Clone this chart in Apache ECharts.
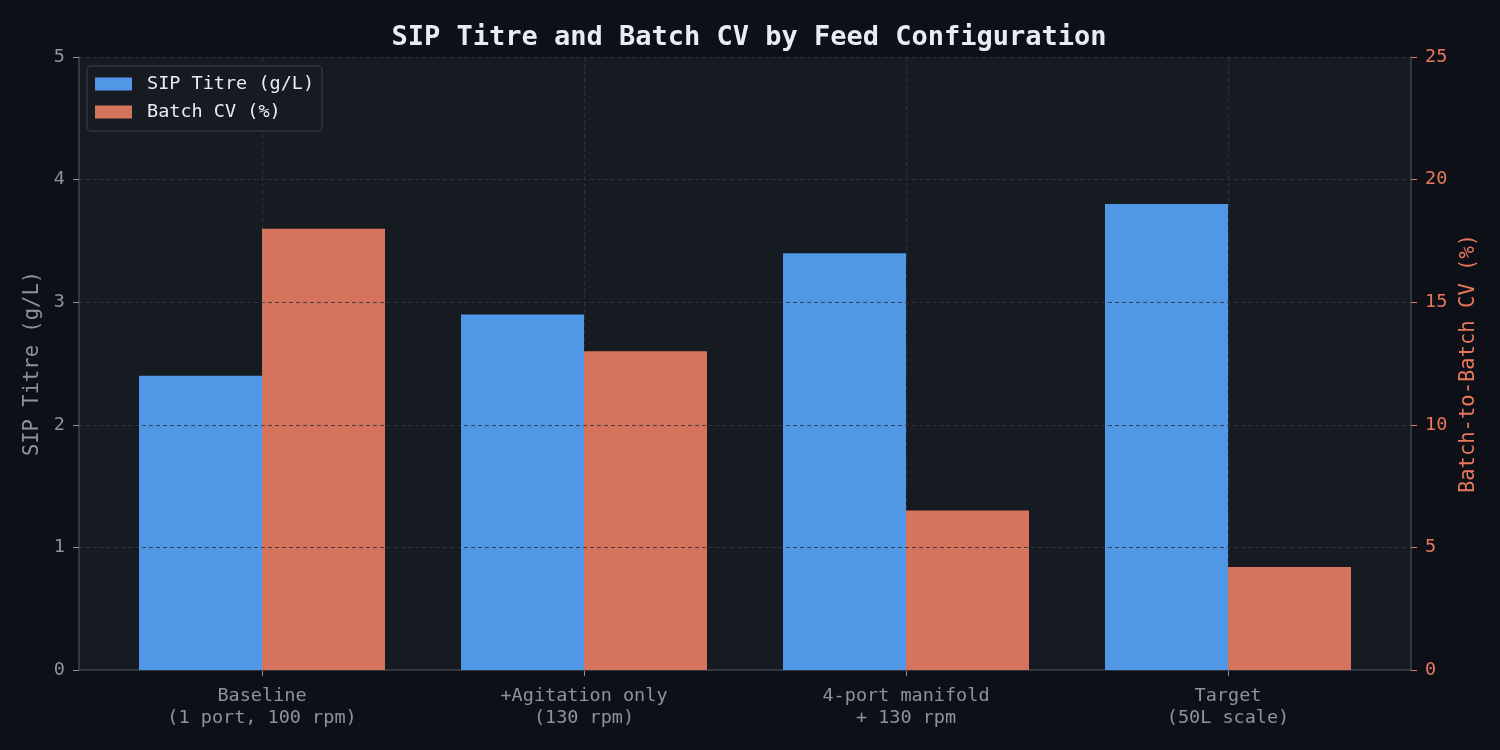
<!DOCTYPE html>
<html>
<head>
<meta charset="utf-8">
<style>
  html, body { margin: 0; padding: 0; background: #0d1117; }
  #main { width: 1500px; height: 750px; }
</style>
<script src="https://cdn.jsdelivr.net/npm/echarts@6/dist/echarts.min.js"></script>
</head>
<body>
<div id="main"></div>
<script>
const categories = [
  'Baseline\n(1 port, 100 rpm)',
  '+Agitation only\n(130 rpm)',
  '4-port manifold\n+ 130 rpm',
  'Target\n(50L scale)'
];
const titreValues = [2.4, 2.9, 3.4, 3.8];
const cvValues = [18, 13, 6.5, 4.2];

const FONT = "'DejaVu Sans Mono', monospace";
const GRAY = '#8b949e';
const ORANGE = '#e8775d';
const LINE = '#3d444d';
const GRIDLINE = 'rgba(48, 54, 61, 0.85)';

const chart = echarts.init(document.getElementById('main'));

const option = {
  backgroundColor: '#0d1117',
  textStyle: { fontFamily: FONT },
  title: {
    text: 'SIP Titre and Batch CV by Feed Configuration',
    left: 744,
    top: 19,
    textAlign: 'center',
    textStyle: { color: '#e6edf3', fontSize: 27, fontWeight: 'bold', fontFamily: FONT }
  },
  legend: {
    orient: 'vertical',
    left: 87,
    top: 66,
    padding: [7, 8, 8, 8],
    itemWidth: 37,
    itemHeight: 13,
    itemGap: 6,
    icon: 'rect',
    backgroundColor: '#161b22',
    borderColor: '#30363d',
    borderWidth: 1.5,
    borderRadius: 4,
    textStyle: { color: '#e6edf3', fontSize: 18.5, fontFamily: FONT, padding: [0, 0, 0, 10], lineHeight: 22 },
    data: ['SIP Titre (g/L)', 'Batch CV (%)']
  },
  grid: [
    { left: 79, right: 89, top: 57, bottom: 80, show: true, backgroundColor: '#161b22', borderWidth: 0 },
    { left: 101, right: 111, top: 57, bottom: 80 },
    { left: 262, right: 272, top: 57, bottom: 80 }
  ],
  xAxis: [
    {
      gridIndex: 0, type: 'value', min: 0, max: 1,
      axisLine: { show: true, lineStyle: { color: LINE, width: 1.5 } },
      axisTick: { show: false }, axisLabel: { show: false }, splitLine: { show: false }
    },
    {
      gridIndex: 1, type: 'category', data: categories,
      axisLine: { show: false },
      axisTick: { show: true, alignWithLabel: true, length: 6, lineStyle: { color: GRAY } },
      axisLabel: { color: GRAY, fontSize: 18.5, lineHeight: 22, margin: 15, fontFamily: FONT },
      splitLine: { show: false }
    },
    {
      gridIndex: 2, type: 'category', data: categories, boundaryGap: false,
      axisLine: { show: false }, axisTick: { show: false }, axisLabel: { show: false },
      splitLine: { show: true, lineStyle: { color: GRIDLINE, type: [4, 3], width: 1 } }
    }
  ],
  yAxis: [
    {
      gridIndex: 0, type: 'value', min: 0, max: 5, interval: 1, position: 'left', z: 5,
      name: 'SIP Titre (g/L)', nameLocation: 'middle', nameGap: 36,
      nameTextStyle: { color: GRAY, fontSize: 20.5, fontFamily: FONT },
      axisLine: { show: true, lineStyle: { color: LINE, width: 1.5 } },
      axisTick: { show: true, length: 6, lineStyle: { color: GRAY } },
      axisLabel: { color: GRAY, fontSize: 18.5, margin: 14, fontFamily: FONT, padding: [3, 0, 0, 0] },
      splitLine: { show: true, lineStyle: { color: GRIDLINE, type: [4, 3], width: 1 } }
    },
    {
      gridIndex: 0, type: 'value', min: 0, max: 25, interval: 5, position: 'right', z: 5,
      name: 'Batch-to-Batch CV (%)', nameLocation: 'middle', nameGap: 45, nameRotate: 90,
      nameTextStyle: { color: ORANGE, fontSize: 20.5, fontFamily: FONT },
      axisLine: { show: true, lineStyle: { color: LINE, width: 1.5 } },
      axisTick: { show: true, length: 6, lineStyle: { color: ORANGE } },
      axisLabel: { color: ORANGE, fontSize: 18.5, margin: 14, fontFamily: FONT, padding: [3, 0, 0, 0] },
      splitLine: { show: false }
    },
    { gridIndex: 1, type: 'value', min: 0, max: 5, show: false },
    { gridIndex: 1, type: 'value', min: 0, max: 25, show: false },
    { gridIndex: 2, type: 'value', min: 0, max: 1, show: false }
  ],
  series: [
    {
      name: 'SIP Titre (g/L)',
      type: 'bar',
      xAxisIndex: 1,
      yAxisIndex: 2,
      data: titreValues,
      barWidth: 123,
      barGap: '0%',
      itemStyle: { color: '#5097e6' }
    },
    {
      name: 'Batch CV (%)',
      type: 'bar',
      xAxisIndex: 1,
      yAxisIndex: 3,
      data: cvValues,
      barWidth: 123,
      barGap: '0%',
      itemStyle: { color: '#d5735c' }
    }
  ]
};

chart.setOption(option);
</script>
</body>
</html>
